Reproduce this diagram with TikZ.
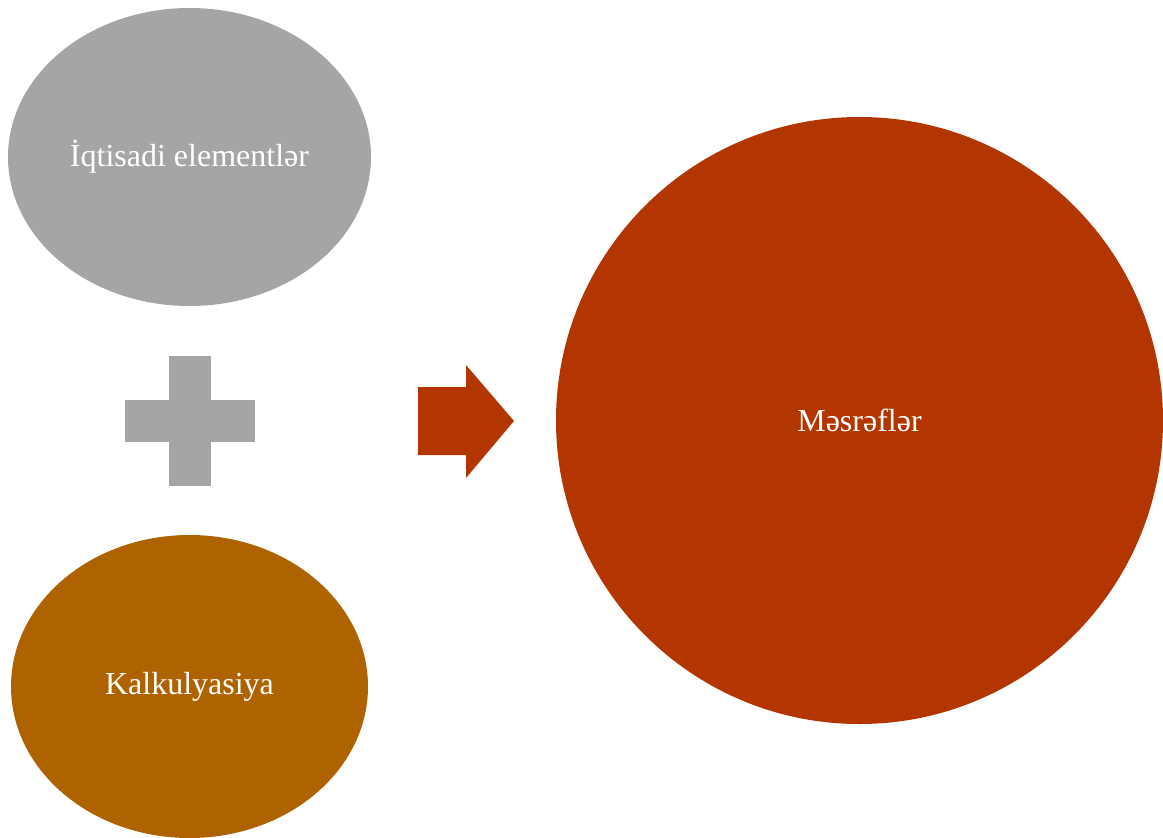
\documentclass[tikz,border=0pt]{standalone}
\usepackage{fontspec}
\setmainfont{Liberation Serif}
\usetikzlibrary{shapes.geometric}
\definecolor{cgray}{HTML}{A5A5A5}
\definecolor{cbrown}{HTML}{AE6300}
\definecolor{cred}{HTML}{B33500}
\begin{document}
\begin{tikzpicture}[x=1pt,y=-1pt,
  blob/.style={ellipse,inner sep=0pt,outer sep=0pt,text=white,font=\fontsize{32}{37}\selectfont},
]
\useasboundingbox (0,0) rectangle (1163,838);
\node[blob,fill=cgray,minimum width=363pt,minimum height=298pt] (ie) at (189.5,157) {İqtisadi elementlər};
\node[blob,fill=cbrown,minimum width=357pt,minimum height=303pt] (kal) at (189.5,686.5) {Kalkulyasiya};
\node[blob,circle,fill=cred,minimum size=607pt] (mes) at (859.5,420.5) {Məsrəflər};
\fill[cgray] (169,356) rectangle (211,486);
\fill[cgray] (125,400) rectangle (255,442);
\fill[cred] (418,387) -- (466,387) -- (466,365) -- (514,421) -- (466,478) -- (466,455) -- (418,455) -- cycle;
\end{tikzpicture}
\end{document}
